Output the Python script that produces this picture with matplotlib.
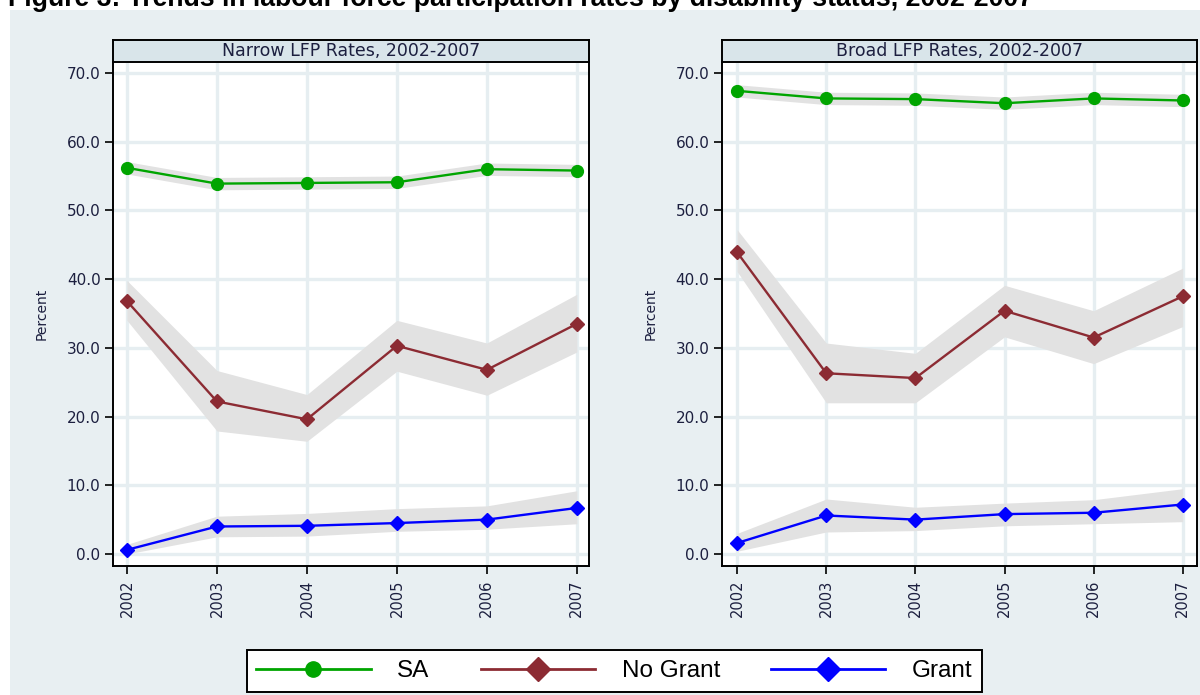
import matplotlib
matplotlib.use("Agg")
import matplotlib.pyplot as plt
from matplotlib.lines import Line2D
from matplotlib.patches import Rectangle

# ---- data -------------------------------------------------------------
years = [2002, 2003, 2004, 2005, 2006, 2007]
year_labels = ["2002", "2003", "2004", "2005", "2006", "2007"]
y_ticks = [0, 10, 20, 30, 40, 50, 60, 70]

panel_titles = ["Narrow LFP Rates, 2002-2007", "Broad LFP Rates, 2002-2007"]
series_names = ["SA", "No Grant", "Grant"]

# Narrow definition
narrow_sa = [56.2, 53.9, 54.0, 54.1, 56.0, 55.8]
narrow_sa_lo = [55.3, 53.0, 53.1, 53.2, 55.1, 54.9]
narrow_sa_hi = [57.1, 54.8, 54.9, 55.0, 56.9, 56.7]
narrow_nogrant = [36.8, 22.2, 19.6, 30.3, 26.8, 33.5]
narrow_nogrant_lo = [34.0, 17.9, 16.4, 26.6, 23.1, 29.4]
narrow_nogrant_hi = [39.8, 26.7, 23.2, 34.0, 30.7, 37.8]
narrow_grant = [0.6, 4.0, 4.1, 4.5, 5.0, 6.7]
narrow_grant_lo = [0.0, 2.5, 2.6, 3.3, 3.6, 4.4]
narrow_grant_hi = [1.4, 5.5, 5.9, 6.6, 7.0, 9.2]

# Broad definition
broad_sa = [67.4, 66.3, 66.2, 65.6, 66.3, 66.0]
broad_sa_lo = [66.5, 65.4, 65.3, 64.7, 65.4, 65.1]
broad_sa_hi = [68.3, 67.2, 67.1, 66.5, 67.2, 66.9]
broad_nogrant = [43.9, 26.3, 25.6, 35.4, 31.5, 37.5]
broad_nogrant_lo = [41.1, 22.0, 22.0, 31.6, 27.7, 33.1]
broad_nogrant_hi = [47.2, 30.7, 29.2, 39.1, 35.4, 41.6]
broad_grant = [1.6, 5.6, 5.0, 5.8, 6.0, 7.2]
broad_grant_lo = [0.4, 3.2, 3.4, 4.1, 4.4, 4.7]
broad_grant_hi = [3.0, 8.0, 6.8, 7.4, 7.9, 9.5]

# ---- style ------------------------------------------------------------
BG = "#e8eff2"
STRIP = "#d9e5ea"
GRID = "#e6eef1"
BAND = "#e2e2e2"
TEXT = "#1c1f3f"
colors = {"SA": "#00a500", "No Grant": "#8c2b33", "Grant": "#0000ff"}
markers = {"SA": "o", "No Grant": "D", "Grant": "D"}
msizes = {"SA": 8.5, "No Grant": 7.5, "Grant": 7.5}

W, H = 1200, 695
fig = plt.figure(figsize=(W / 100, H / 100), dpi=100)
fig.patch.set_facecolor("white")
fig.add_artist(Rectangle((10 / W, 0), 1 - 10 / W, 1 - 10 / H,
                         transform=fig.transFigure, facecolor=BG,
                         edgecolor="none", zorder=-10))

# Figure caption (runs off the top edge)
fig.text(8 / W, 1 - 6 / H,
         "Figure 3: Trends in labour force participation rates by disability status, 2002-2007",
         family="Liberation Sans", fontweight="bold", fontsize=19.2,
         va="baseline", ha="left", color="black")

panels = [
    dict(x0=113, x1=589, xlim=(2001.845, 2007.135), title=panel_titles[0],
         data={"SA": (narrow_sa, narrow_sa_lo, narrow_sa_hi),
               "No Grant": (narrow_nogrant, narrow_nogrant_lo, narrow_nogrant_hi),
               "Grant": (narrow_grant, narrow_grant_lo, narrow_grant_hi)}),
    dict(x0=722, x1=1197, xlim=(2001.83, 2007.16), title=panel_titles[1],
         data={"SA": (broad_sa, broad_sa_lo, broad_sa_hi),
               "No Grant": (broad_nogrant, broad_nogrant_lo, broad_nogrant_hi),
               "Grant": (broad_grant, broad_grant_lo, broad_grant_hi)}),
]

plot_top, plot_bot = 62, 566
strip_top = 40

for p in panels:
    ax = fig.add_axes([p["x0"] / W, 1 - plot_bot / H,
                       (p["x1"] - p["x0"]) / W, (plot_bot - plot_top) / H])
    ax.set_facecolor("white")
    ax.set_axisbelow(True)
    ax.grid(True, color=GRID, lw=2.4)
    for name in series_names:
        v, lo, hi = p["data"][name]
        ax.fill_between(years, lo, hi, color=BAND, lw=0, zorder=1)
    for name in series_names:
        v, lo, hi = p["data"][name]
        ax.plot(years, v, color=colors[name], lw=1.7, marker=markers[name],
                ms=msizes[name], mec=colors[name], zorder=3)
    ax.set_xlim(*p["xlim"])
    ax.set_ylim(-1.75, 71.6)
    ax.set_xticks(years)
    ax.set_xticklabels(year_labels, rotation=90, family="DejaVu Sans",
                       fontsize=10.5, color=TEXT)
    ax.set_yticks(y_ticks)
    ax.set_yticklabels([f"{t:.1f}" for t in y_ticks], family="DejaVu Sans",
                       fontsize=11, color=TEXT)
    ax.tick_params(axis="both", direction="out", length=6, width=1.2,
                   color="black", pad=4)
    ax.tick_params(axis="y", pad=3)
    for s in ["left", "bottom", "right"]:
        ax.spines[s].set_color("black")
        ax.spines[s].set_linewidth(1.4)
    ax.spines["top"].set_visible(False)
    ax.set_ylabel("Percent", family="DejaVu Sans", fontsize=10, color=TEXT,
                  labelpad=13)

    # title strip above the plot area
    sax = fig.add_axes([p["x0"] / W, 1 - plot_top / H,
                        (p["x1"] - p["x0"]) / W, (plot_top - strip_top) / H])
    sax.set_facecolor(STRIP)
    sax.set_xticks([])
    sax.set_yticks([])
    for s in sax.spines.values():
        s.set_color("black")
        s.set_linewidth(1.4)
    sax.text(0.5, 0.5, p["title"], ha="center", va="center",
             family="DejaVu Sans", fontsize=12.5, color=TEXT,
             transform=sax.transAxes)

# Shared legend
handles = [Line2D([], [], color=colors[n], lw=2, marker=markers[n],
                  ms=(11 if n == "SA" else 12), mec=colors[n])
           for n in series_names]
leg = fig.legend(handles, series_names, loc="center",
                 bbox_to_anchor=((243 + 986) / 2 / W, 1 - 671 / H),
                 ncol=3, frameon=True, fancybox=False, edgecolor="black",
                 facecolor="white", framealpha=1,
                 prop={"family": "Liberation Sans", "size": 17.5},
                 handlelength=4.7, handletextpad=1.1, columnspacing=2.1,
                 borderpad=0.4, borderaxespad=0)
leg.get_frame().set_linewidth(1.4)

fig.savefig("out.png", dpi=100, facecolor=fig.get_facecolor())
